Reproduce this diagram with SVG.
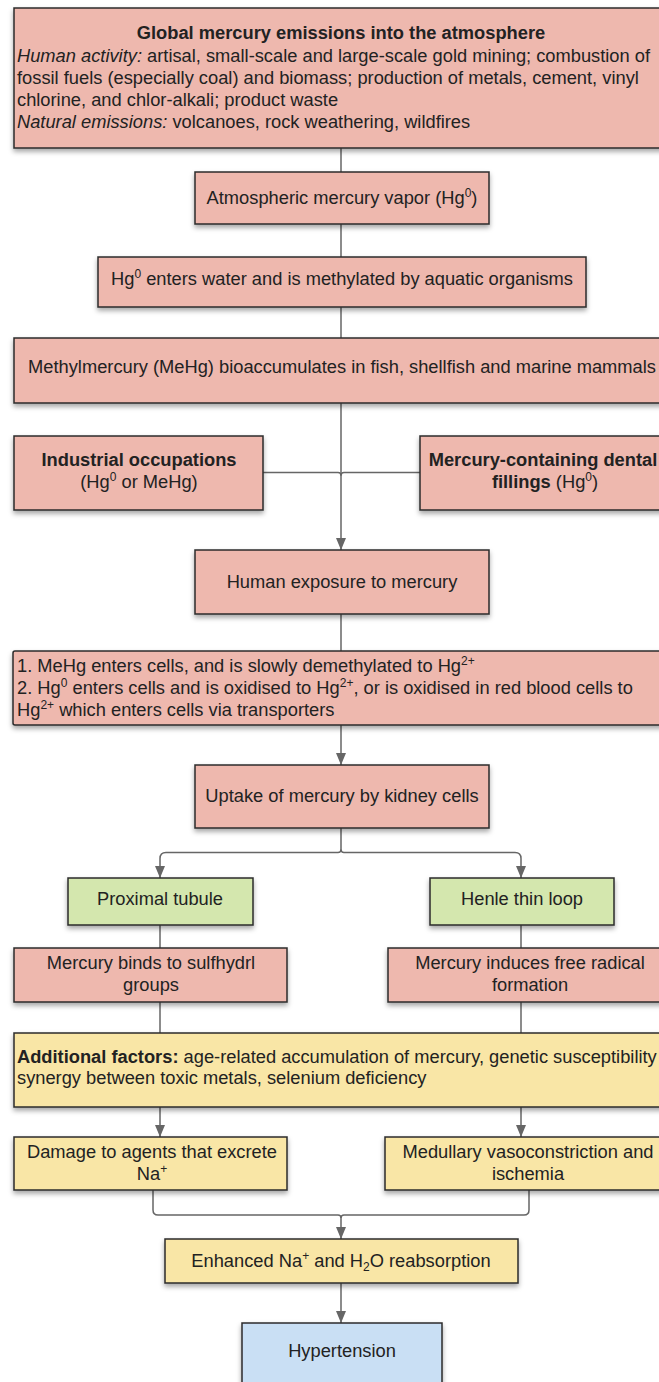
<svg xmlns="http://www.w3.org/2000/svg" width="659" height="1382" viewBox="0 0 659 1382">
<defs>
<filter id="sh" x="-10%" y="-20%" width="120%" height="150%">
<feDropShadow dx="0" dy="3" stdDeviation="2.5" flood-color="#000" flood-opacity="0.35"/>
</filter>
<marker id="ar" viewBox="0 0 12 10" refX="12" refY="5" markerWidth="12" markerHeight="10" markerUnits="userSpaceOnUse" orient="auto">
<path d="M0,0 L12,5 L0,10 z" fill="#666"/>
</marker>
<style>
.n{stroke:#2b2b2b;stroke-width:1.5;filter:url(#sh)}
.p{fill:#EEB8AE}
.g{fill:#D4E7AE}
.y{fill:#F9E6A6}
.bl{fill:#C9DFF4}
text{font-family:"Liberation Sans",Arial,sans-serif;font-size:18.3px;fill:#222}
.c{text-anchor:middle}
.bo{font-weight:bold}
.it{font-style:italic}
.s{font-size:12px}
.k{fill:none;stroke:#666;stroke-width:1.5}
</style>
</defs>
<g id="connectors">
<path class="k" d="M341,148 V172"/>
<path class="k" d="M341,224 V257"/>
<path class="k" d="M341,307 V338"/>
<path class="k" d="M341,403 V550" marker-end="url(#ar)"/>
<path class="k" d="M263,472.5 H338 Q341,472.5 341,475.5"/>
<path class="k" d="M420,472.5 H344 Q341,472.5 341,475.5"/>
<path class="k" d="M341,614 V651"/>
<path class="k" d="M341,725 V765" marker-end="url(#ar)"/>
<path class="k" d="M341,828 V849.5 Q341,852.5 338,852.5 H166 Q160,852.5 160,858.5 V878" marker-end="url(#ar)"/>
<path class="k" d="M341,849.5 Q341,852.5 344,852.5 H515 Q521,852.5 521,858.5 V878" marker-end="url(#ar)"/>
<path class="k" d="M160,925 V948"/>
<path class="k" d="M521,925 V948"/>
<path class="k" d="M160,1002 V1033"/>
<path class="k" d="M521,1002 V1033"/>
<path class="k" d="M160,1107 V1137" marker-end="url(#ar)"/>
<path class="k" d="M521,1107 V1137" marker-end="url(#ar)"/>
<path class="k" d="M153,1190 V1210 Q153,1215 158,1215 H338 Q341,1215 341,1218 V1239" marker-end="url(#ar)"/>
<path class="k" d="M529,1190 V1210 Q529,1215 524,1215 H344 Q341,1215 341,1218"/>
<path class="k" d="M341,1283 V1323" marker-end="url(#ar)"/>
</g>
<g id="n1">
<rect class="n p" x="14" y="8" width="660" height="140"/>
<text class="c bo" x="341" y="39">Global mercury emissions into the atmosphere</text>
<text x="17" y="62"><tspan class="it">Human activity:</tspan> artisal, small-scale and large-scale gold mining; combustion of</text>
<text x="17" y="84">fossil fuels (especially coal) and biomass; production of metals, cement, vinyl</text>
<text x="17" y="106">chlorine, and chlor-alkali; product waste</text>
<text x="17" y="128"><tspan class="it">Natural emissions:</tspan> volcanoes, rock weathering, wildfires</text>
</g>
<g id="n2">
<rect class="n p" x="195" y="172" width="294" height="52"/>
<text class="c" x="342" y="204">Atmospheric mercury vapor (Hg<tspan class="s" dy="-7">0</tspan><tspan dy="7">)</tspan></text>
</g>
<g id="n3">
<rect class="n p" x="98" y="257" width="488" height="50"/>
<text class="c" x="342" y="285">Hg<tspan class="s" dy="-7">0</tspan><tspan dy="7"> enters water and is methylated by aquatic organisms</tspan></text>
</g>
<g id="n4">
<rect class="n p" x="14" y="338" width="660" height="65"/>
<text class="c" x="342" y="373">Methylmercury (MeHg) bioaccumulates in fish, shellfish and marine mammals</text>
</g>
<g id="n5">
<rect class="n p" x="14" y="436" width="249" height="74"/>
<text class="c bo" x="139" y="466">Industrial occupations</text>
<text class="c" x="139" y="488">(Hg<tspan class="s" dy="-7">0</tspan><tspan dy="7"> or MeHg)</tspan></text>
</g>
<g id="n6">
<rect class="n p" x="420" y="436" width="252" height="74"/>
<text class="c bo" x="543" y="466">Mercury-containing dental</text>
<text class="c" x="545" y="488"><tspan class="bo">fillings</tspan> (Hg<tspan class="s" dy="-7">0</tspan><tspan dy="7">)</tspan></text>
</g>
<g id="n7">
<rect class="n p" x="195" y="550" width="294" height="64"/>
<text class="c" x="342" y="588">Human exposure to mercury</text>
</g>
<g id="n8">
<rect class="n p" x="13" y="651" width="660" height="74" rx="2"/>
<text x="17" y="672">1. MeHg enters cells, and is slowly demethylated to Hg<tspan class="s" dy="-7">2+</tspan></text>
<text x="17" y="694">2. Hg<tspan class="s" dy="-7">0</tspan><tspan dy="7"> enters cells and is oxidised to Hg</tspan><tspan class="s" dy="-7">2+</tspan><tspan dy="7">, or is oxidised in red blood cells to</tspan></text>
<text x="17" y="716">Hg<tspan class="s" dy="-7">2+</tspan><tspan dy="7"> which enters cells via transporters</tspan></text>
</g>
<g id="n9">
<rect class="n p" x="195" y="765" width="294" height="63"/>
<text class="c" x="342" y="802">Uptake of mercury by kidney cells</text>
</g>
<g id="n10">
<rect class="n g" x="68" y="878" width="185" height="47"/>
<text class="c" x="160" y="905">Proximal tubule</text>
</g>
<g id="n11">
<rect class="n g" x="430" y="878" width="184" height="47"/>
<text class="c" x="522" y="905">Henle thin loop</text>
</g>
<g id="n12">
<rect class="n p" x="14" y="948" width="273" height="54"/>
<text class="c" x="151" y="969">Mercury binds to sulfhydrl</text>
<text class="c" x="151" y="991">groups</text>
</g>
<g id="n13">
<rect class="n p" x="388" y="948" width="285" height="54"/>
<text class="c" x="530" y="969">Mercury induces free radical</text>
<text class="c" x="530" y="991">formation</text>
</g>
<g id="n14">
<rect class="n y" x="14" y="1033" width="660" height="74"/>
<text x="17" y="1063"><tspan class="bo">Additional factors:</tspan> age-related accumulation of mercury, genetic susceptibility</text>
<text x="17" y="1084">synergy between toxic metals, selenium deficiency</text>
</g>
<g id="n15">
<rect class="n y" x="14" y="1137" width="273" height="53"/>
<text class="c" x="152" y="1158">Damage to agents that excrete</text>
<text class="c" x="152" y="1180">Na<tspan class="s" dy="-7">+</tspan></text>
</g>
<g id="n16">
<rect class="n y" x="385" y="1137" width="288" height="53"/>
<text class="c" x="528" y="1158">Medullary vasoconstriction and</text>
<text class="c" x="528" y="1180">ischemia</text>
</g>
<g id="n17">
<rect class="n y" x="165" y="1239" width="353" height="44"/>
<text class="c" x="341" y="1267">Enhanced Na<tspan class="s" dy="-7">+</tspan><tspan dy="7"> and H</tspan><tspan class="s" dy="4">2</tspan><tspan dy="-4">O reabsorption</tspan></text>
</g>
<g id="n18">
<rect class="n bl" x="242" y="1323" width="200" height="80"/>
<text class="c" x="342" y="1357">Hypertension</text>
</g>
</svg>
